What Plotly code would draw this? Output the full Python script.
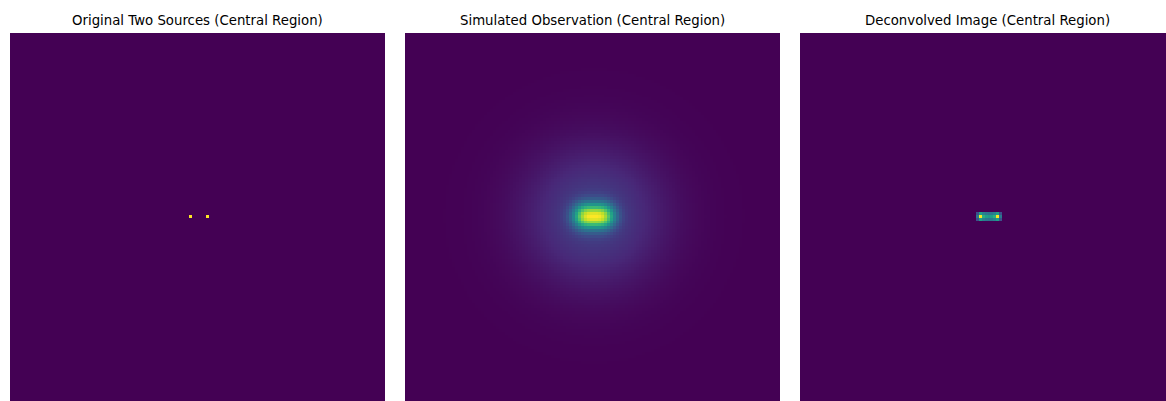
import numpy as np
import plotly.graph_objects as go

# ---- data ----
GRID_SIZE = 128                      # central region, pixels per side
SOURCE_ROWS = [62, 62]               # two point sources (row index)
SOURCE_COLS = [61, 67]               # two point sources (column index)
SOURCE_FLUX = [1.0, 1.0]

# blur model of the simulated observation (core + broad halo)
PSF_CORE_SIGMA = 3.0
PSF_HALO_SIGMA = 16.0
PSF_HALO_WEIGHT = 0.15

# deconvolved image: values of the small bright patch (rows 61-63, cols 60-68)
DECONV_ROW0 = 61
DECONV_COL0 = 60
DECONV_PATCH = [
    [0.25, 0.55, 0.45, 0.40, 0.38, 0.40, 0.45, 0.55, 0.25],
    [0.40, 1.00, 0.62, 0.55, 0.52, 0.55, 0.62, 1.00, 0.40],
    [0.25, 0.55, 0.45, 0.40, 0.38, 0.40, 0.45, 0.55, 0.25],
]

TITLES = [
    "Original Two Sources (Central Region)",
    "Simulated Observation (Central Region)",
    "Deconvolved Image (Central Region)",
]

# ---- build images ----
original = np.zeros((GRID_SIZE, GRID_SIZE))
for r, c, f in zip(SOURCE_ROWS, SOURCE_COLS, SOURCE_FLUX):
    original[r, c] = f

rr, cc = np.mgrid[0:GRID_SIZE, 0:GRID_SIZE]
observed = np.zeros((GRID_SIZE, GRID_SIZE))
for r, c, f in zip(SOURCE_ROWS, SOURCE_COLS, SOURCE_FLUX):
    d2 = (rr - r) ** 2 + (cc - c) ** 2
    observed += f * (np.exp(-d2 / (2 * PSF_CORE_SIGMA ** 2))
                     + PSF_HALO_WEIGHT * np.exp(-d2 / (2 * PSF_HALO_SIGMA ** 2)))

deconv = np.zeros((GRID_SIZE, GRID_SIZE))
patch = np.array(DECONV_PATCH)
deconv[DECONV_ROW0:DECONV_ROW0 + patch.shape[0],
       DECONV_COL0:DECONV_COL0 + patch.shape[1]] = patch

images = [original, observed, deconv]

# ---- layout geometry (pixels) ----
W, H = 1166, 401
panel_left = [10, 405, 800]
panel_w = 375
plot_top = 33
title_y = 21
px_per_cell = panel_w / GRID_SIZE

fig = go.Figure()
for i, img in enumerate(images):
    xa = "x" if i == 0 else f"x{i+1}"
    ya = "y" if i == 0 else f"y{i+1}"
    fig.add_trace(go.Heatmap(
        z=img, colorscale="Viridis", zmin=0, zmax=float(img.max()),
        showscale=False, zsmooth=False, xaxis=xa, yaxis=ya,
        hoverinfo="skip"))
    x0 = panel_left[i]
    x1 = min(x0 + panel_w, W)
    xr_max = -0.5 + (x1 - x0) / px_per_cell
    yr_max = -0.5 + (H - plot_top) / px_per_cell
    key = "" if i == 0 else str(i + 1)
    fig.update_layout(**{
        f"xaxis{key}": dict(domain=[x0 / W, x1 / W], range=[-0.5, xr_max],
                            visible=False, showgrid=False, zeroline=False,
                            anchor=ya),
        f"yaxis{key}": dict(domain=[0, (H - plot_top) / H], range=[yr_max, -0.5],
                            visible=False, showgrid=False, zeroline=False,
                            anchor=xa),
    })
    fig.add_annotation(
        text=TITLES[i], xref="paper", yref="paper",
        x=(x0 + panel_w / 2) / W, y=(H - title_y) / H,
        xanchor="center", yanchor="middle", showarrow=False,
        font=dict(family="DejaVu Sans", size=13.3, color="black"))

fig.update_layout(
    width=W, height=H, margin=dict(l=0, r=0, t=0, b=0),
    paper_bgcolor="white", plot_bgcolor="white", showlegend=False)

fig.write_html(
    "out.html",
    config={"displayModeBar": False},
    post_script="document.body.style.margin='0';document.body.style.overflow='hidden';",
)
